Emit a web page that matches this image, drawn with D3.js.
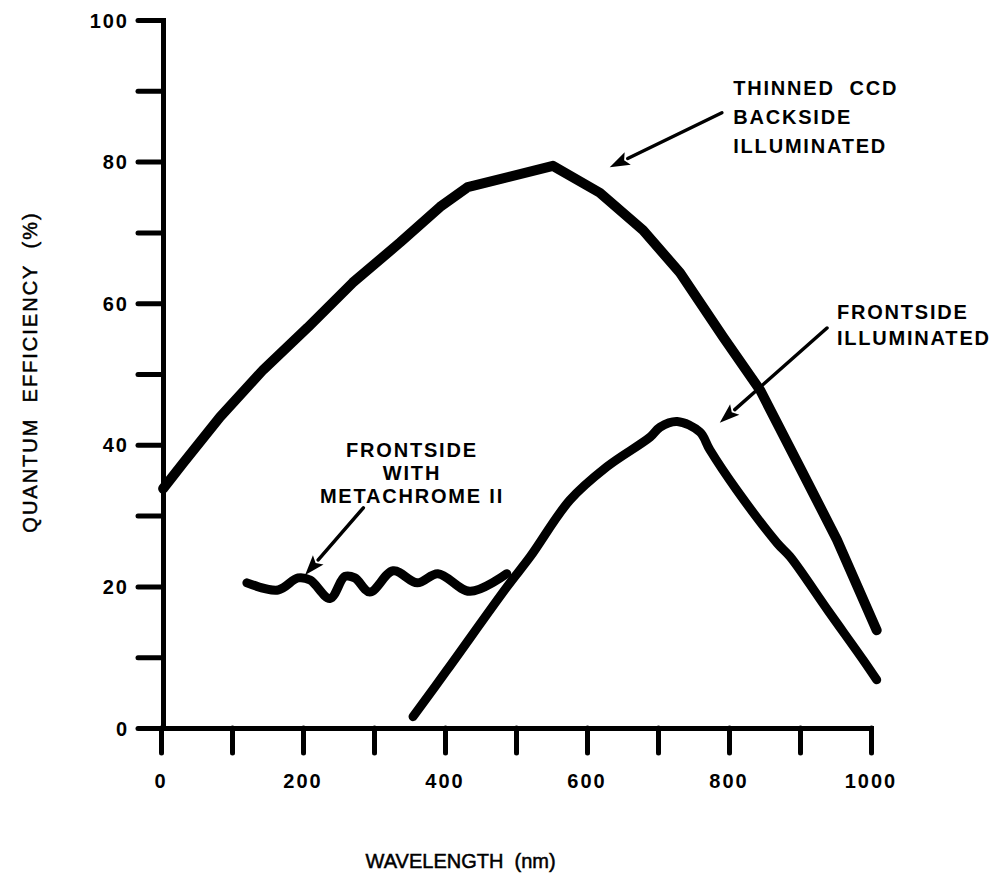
<!DOCTYPE html>
<html>
<head>
<meta charset="utf-8">
<script src="https://cdn.jsdelivr.net/npm/d3@7"></script>
<style>
  body { margin: 0; background: #fff; }
  svg { display: block; }
</style>
</head>
<body>
<div id="chart"></div>
<script>
// values
const backsideWl = [3, 31, 83, 144, 206, 270, 337, 393, 432, 552, 618, 679, 731, 792, 844, 904, 952, 1008];
const backsideQe = [33.8, 37.4, 43.9, 50.6, 56.5, 62.9, 68.6, 73.6, 76.4, 79.4, 75.6, 70.3, 64.3, 55.2, 47.7, 36.0, 26.6, 13.8];

const frontsideWl = [355, 403, 487, 520, 576, 628, 689, 703, 727, 759, 773, 811, 868, 886, 940, 989, 1008];
const frontsideQe = [1.6, 8.2, 19.9, 24.2, 32.2, 36.9, 41.1, 42.5, 43.3, 41.8, 39.3, 33.6, 26.1, 24.2, 16.5, 9.6, 6.8];

const metaWl = [121, 165, 193, 210, 238, 259, 273, 294, 327, 361, 390, 435, 487];
const metaQe = [20.5, 19.5, 21.2, 20.9, 18.3, 21.4, 21.2, 19.2, 22.2, 20.5, 21.8, 19.3, 21.8];

const xTicks = [0, 100, 200, 300, 400, 500, 600, 700, 800, 900, 1000];
const xTickLabels = [0, 200, 400, 600, 800, 1000];
const yTicks = [0, 10, 20, 30, 40, 50, 60, 70, 80, 90, 100];
const yTickLabels = [0, 20, 40, 60, 80, 100];

const labelBackside = ["THINNED\u00A0\u00A0CCD", "BACKSIDE", "ILLUMINATED"];
const labelFrontside = ["FRONTSIDE", "ILLUMINATED"];
const labelMeta = ["FRONTSIDE", "WITH", "METACHROME II"];

const width = 997,
  height = 879;

const margin = {top: 20, right: 126, bottom: 151, left: 161},
  innerWidth = width - margin.left - margin.right,
  innerHeight = height - margin.top - margin.bottom;

const x = d3.scaleLinear().domain([0, 1000]).range([0, innerWidth]);
const y = d3.scaleLinear().domain([0, 100]).range([innerHeight, 0]);

const font = "'Liberation Sans', Arial, Helvetica, sans-serif";

const svg = d3.select("#chart").append("svg")
    .attr("width", width)
    .attr("height", height)
    .attr("font-family", font);

const g = svg.append("g")
    .attr("transform", "translate(" + margin.left + "," + margin.top + ")");

// axes (ticks only, labels drawn below)
const xAxis = g.append("g")
    .attr("transform", "translate(0," + innerHeight + ")")
    .call(d3.axisBottom(x)
      .tickValues(xTicks)
      .tickSize(25)
      .tickSizeOuter(0)
      .tickFormat(""));

const yAxis = g.append("g")
    .attr("transform", "translate(2,0)")
    .call(d3.axisLeft(y)
      .tickValues(yTicks)
      .tickSize(25)
      .tickSizeOuter(0)
      .tickFormat(""));

[xAxis, yAxis].forEach(ax => {
  ax.select(".domain")
    .attr("stroke", "#000")
    .attr("stroke-width", 5)
    .attr("stroke-linecap", "square");
  ax.selectAll(".tick line")
    .attr("stroke", "#000")
    .attr("stroke-width", 5)
    .attr("stroke-linecap", "round");
  ax.selectAll(".tick text").remove();
});

g.selectAll(".xlabel")
    .data(xTickLabels)
  .enter().append("text")
    .attr("class", "xlabel")
    .attr("x", d => x(d))
    .attr("y", innerHeight + 60)
    .attr("text-anchor", "middle")
    .attr("font-size", 20)
    .attr("font-weight", "bold")
    .attr("letter-spacing", 2)
    .text(d => d);

g.selectAll(".ylabel")
    .data(yTickLabels)
  .enter().append("text")
    .attr("class", "ylabel")
    .attr("x", -32)
    .attr("y", d => y(d) + 7.5)
    .attr("text-anchor", "end")
    .attr("font-size", 20)
    .attr("font-weight", "bold")
    .attr("letter-spacing", 2)
    .text(d => d);

// axis titles
svg.append("text")
    .attr("x", margin.left + x(422))
    .attr("y", 868)
    .attr("text-anchor", "middle")
    .attr("stroke", "#000")
    .attr("stroke-width", 0.5)
    .attr("font-size", 20)
    .text("WAVELENGTH\u00A0\u00A0(nm)");

svg.append("text")
    .attr("transform", "translate(37,372) rotate(-90)")
    .attr("text-anchor", "middle")
    .attr("stroke", "#000")
    .attr("stroke-width", 0.5)
    .attr("font-size", 20)
    .attr("letter-spacing", 2)
    .text("QUANTUM\u00A0\u00A0EFFICIENCY\u00A0\u00A0(%)");

// curves
const line = d3.line()
    .x(d => x(d[0]))
    .y(d => y(d[1]));

const curves = [
  {wl: backsideWl, qe: backsideQe, curve: d3.curveLinear, w: 10},
  {wl: frontsideWl, qe: frontsideQe, curve: d3.curveCatmullRom, w: 9},
  {wl: metaWl, qe: metaQe, curve: d3.curveCatmullRom, w: 9}
];

g.selectAll(".curve")
    .data(curves)
  .enter().append("path")
    .attr("class", "curve")
    .attr("fill", "none")
    .attr("stroke", "#000")
    .attr("stroke-width", d => d.w)
    .attr("stroke-linecap", "round")
    .attr("stroke-linejoin", "round")
    .attr("d", d => line.curve(d.curve)(d.wl.map((v, i) => [v, d.qe[i]])));

// annotation arrows: [from wl, from qe, to wl, to qe]
const arrows = [
  [790, 86.9, 632, 79.2],
  [938, 56.5, 787, 43.1],
  [285, 31.1, 203, 21.6]
];

arrows.forEach(a => {
  const x1 = x(a[0]), y1 = y(a[1]), x2 = x(a[2]), y2 = y(a[3]);
  const ang = Math.atan2(y2 - y1, x2 - x1);
  const len = 20, half = 7;
  const bx = x2 - len * Math.cos(ang), by = y2 - len * Math.sin(ang);
  g.append("line")
      .attr("x1", x1).attr("y1", y1)
      .attr("x2", bx).attr("y2", by)
      .attr("stroke", "#000")
      .attr("stroke-width", 3.5)
      .attr("stroke-linecap", "round");
  g.append("path")
      .attr("fill", "#000")
      .attr("d", "M" + x2 + "," + y2 +
        "L" + (bx + half * Math.sin(ang)) + "," + (by - half * Math.cos(ang)) +
        "L" + (bx + 4 * Math.cos(ang)) + "," + (by + 4 * Math.sin(ang)) +
        "L" + (bx - half * Math.sin(ang)) + "," + (by + half * Math.cos(ang)) + "Z");
});

// annotation labels
const labels = [
  {lines: labelBackside, wl: 806, qe: 89.4, step: 29, anchor: "start"},
  {lines: labelFrontside, wl: 952, qe: 57.8, step: 26, anchor: "start"},
  {lines: labelMeta, wl: 353.5, qe: 38.3, step: 23, anchor: "middle"}
];

labels.forEach(l => {
  l.lines.forEach((s, i) => {
    g.append("text")
        .attr("x", x(l.wl))
        .attr("y", y(l.qe) + i * l.step)
        .attr("text-anchor", l.anchor)
        .attr("font-size", 20)
        .attr("font-weight", "bold")
        .attr("letter-spacing", 1.8)
        .text(s);
  });
});
</script>
</body>
</html>
